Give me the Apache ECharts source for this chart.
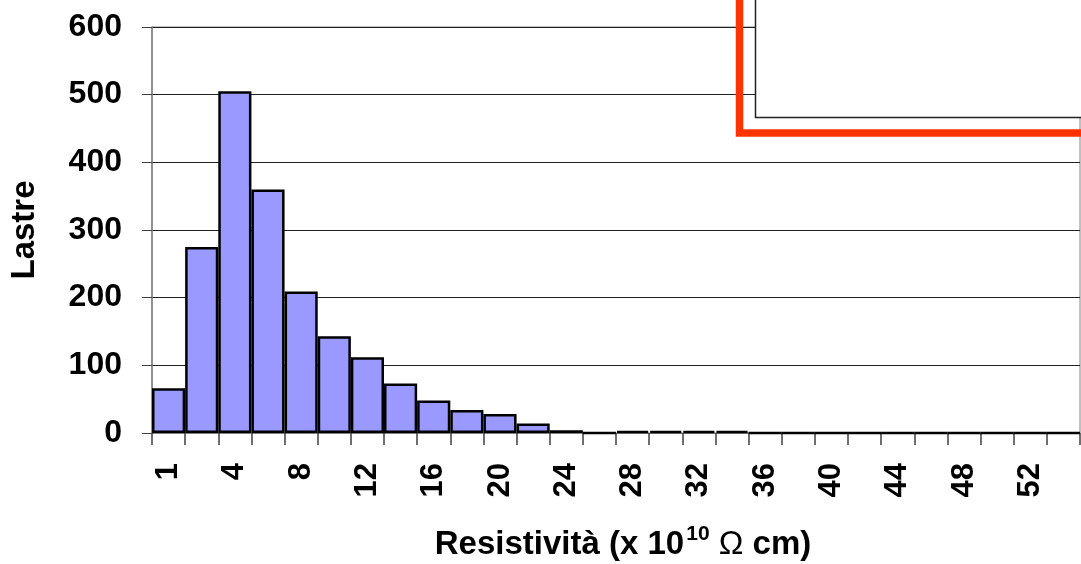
<!DOCTYPE html>
<html>
<head>
<meta charset="utf-8">
<script src="https://cdn.jsdelivr.net/npm/echarts@6/dist/echarts.min.js"></script>
<style>
html,body{margin:0;padding:0;background:#fff;overflow:hidden;}
#chart{width:1081px;height:564px;}
</style>
</head>
<body>
<div id="chart"></div>
<script>
var categories = ['1','2','4','6','8','10','12','14','16','18','20','22','24','26','28','30','32','34','36','38','40','42','44','46','48','50','52','54'];
var counts = [66, 275, 505, 360, 209, 143, 112, 73, 48, 34, 28, 14, 4, 0, 3, 3, 3, 3, 0, 0, 0, 0, 0, 0, 0, 0, 0, 0];
var yTicks = {min: 0, max: 600, interval: 100};
var yName = 'Lastre';

var FONT = '"Liberation Sans", Arial, sans-serif';
var chart = echarts.init(document.getElementById('chart'));
chart.setOption({
  animation: false,
  backgroundColor: '#ffffff',
  grid: {left: 152, right: 1, top: 27, bottom: 131, containLabel: false, outerBoundsMode: 'none', show: true, borderColor: '#808080', borderWidth: 1},
  xAxis: {
    type: 'category',
    data: categories,
    boundaryGap: true,
    axisLine: {show: true, lineStyle: {color: '#808080', width: 1}},
    axisTick: {show: true, interval: 0, length: 12, lineStyle: {color: '#404040', width: 1.5}},
    axisLabel: {interval: 1, rotate: 90, margin: 30, color: '#000', fontFamily: FONT, fontWeight: 'bold', fontSize: 31},
    name: '{a|Resistività (x 10}{s|10}{a| }{o|Ω}{a| cm)}',
    nameLocation: 'middle',
    nameGap: 91,
    nameTextStyle: {
      padding: [0, 0, 0, 14],
      rich: {
        a: {fontFamily: FONT, fontWeight: 'bold', fontSize: 33, color: '#000'},
        s: {fontFamily: FONT, fontWeight: 'bold', fontSize: 21, color: '#000', padding: [0, 0, 20, 2]},
        o: {fontFamily: FONT, fontWeight: 'normal', fontSize: 33, color: '#000'}
      }
    }
  },
  yAxis: {
    type: 'value',
    min: yTicks.min, max: yTicks.max, interval: yTicks.interval,
    axisLine: {show: true, lineStyle: {color: '#808080', width: 1.5}},
    axisTick: {show: true, length: 10, lineStyle: {color: '#404040', width: 1}},
    axisLabel: {margin: 30, color: '#000', fontFamily: FONT, fontWeight: 'bold', fontSize: 32},
    splitLine: {show: true, lineStyle: {color: '#222', width: 1}},
    name: yName,
    nameLocation: 'middle',
    nameGap: 111,
    nameRotate: 90,
    nameTextStyle: {fontFamily: FONT, fontWeight: 'bold', fontSize: 33, color: '#000'}
  },
  series: [{
    type: 'bar',
    data: counts,
    barCategoryGap: 0,
    itemStyle: {color: '#9999FF', borderColor: '#000', borderWidth: 2.5}
  }],
  graphic: [
    {type: 'rect', z: 100, shape: {x: 739.5, y: -20, width: 420, height: 153}, style: {fill: 'none', stroke: '#FF3300', lineWidth: 7.5}},
    {type: 'rect', z: 101, shape: {x: 755.5, y: -20, width: 420, height: 137.5}, style: {fill: '#fff', stroke: '#222', lineWidth: 1.5}}
  ]
});
</script>
</body>
</html>
